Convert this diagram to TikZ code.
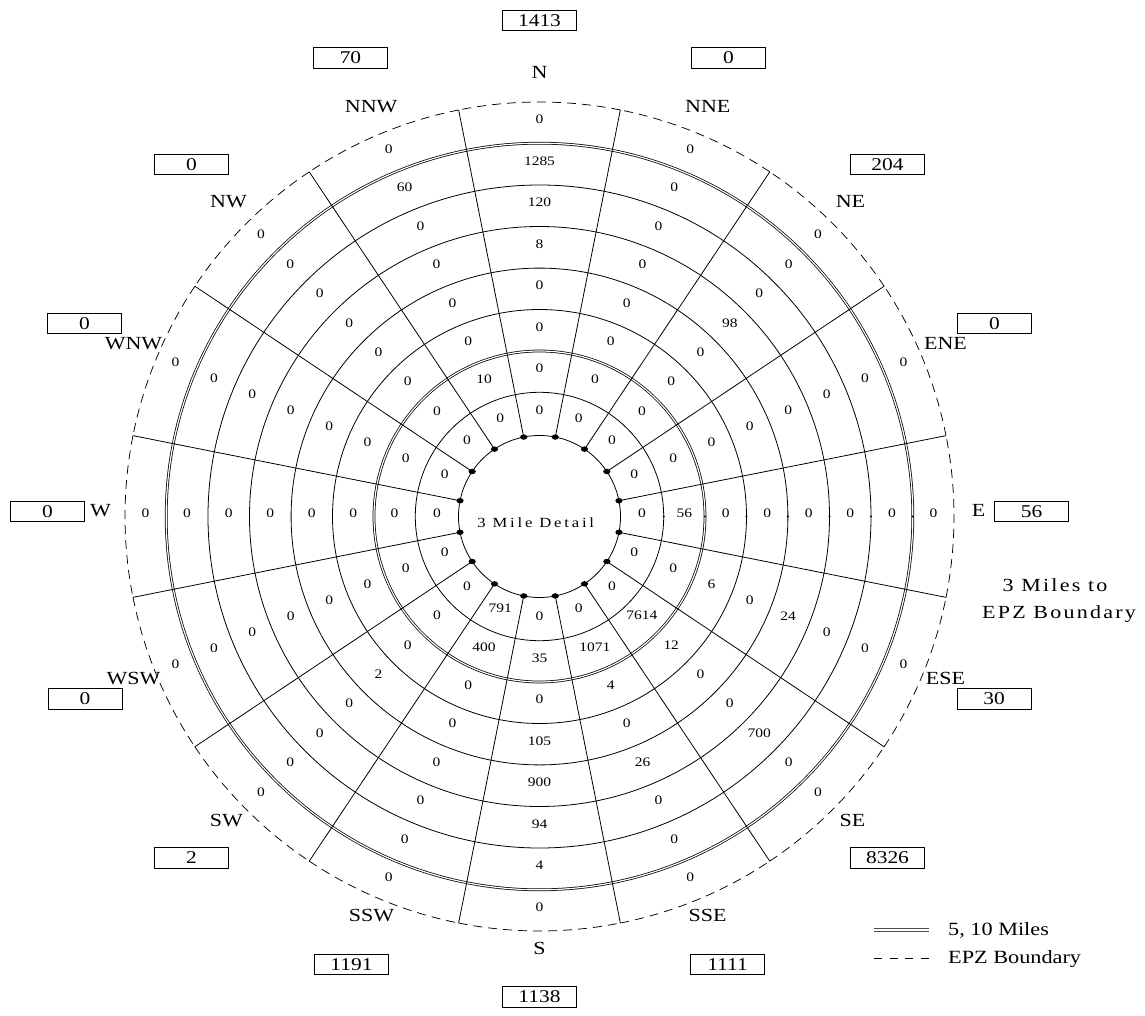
\documentclass[tikz,border=0pt]{standalone}
\usepackage{fontspec}
\setmainfont{Liberation Serif}[FakeStretch=1.19]
\tikzset{
  ringline/.style={line width=0.8pt},
  dblline/.style={line width=0.75pt, double, double distance=1.2pt},
  epzline/.style={line width=0.75pt, dash pattern=on 9pt off 6pt},
  spoke/.style={line width=0.8pt},
  rv/.style={inner sep=0pt, font=\fontsize{13}{14}\selectfont, yshift=3.3pt},
  dirlab/.style={inner sep=0pt, font=\fontsize{18.5}{20}\selectfont},
  valbox/.style={draw, line width=0.9pt, minimum width=74pt, minimum height=20.5pt, inner sep=0pt, font=\fontsize{18}{19}\selectfont},
  legtext/.style={inner sep=0pt, anchor=base west, font=\fontsize{18.7}{20}\selectfont},
  legdbl/.style={line width=0.8pt, draw=black!70},
}
\newcommand{\sectorvals}[9]{%
  \pgfmathsetmacro{\sa}{90-22.5*#1}%
  \node[rv] (v#1r1) at (\sa:102.6) {#2};
  \node[rv] (v#1r2) at (\sa:144.9) {#3};
  \node[rv] (v#1r3) at (\sa:186.3) {#4};
  \node[rv] (v#1r4) at (\sa:227.7) {#5};
  \node[rv] (v#1r5) at (\sa:269.2) {#6};
  \node[rv] (v#1r6) at (\sa:310.8) {#7};
  \node[rv] (v#1r7) at (\sa:352.4) {#8};
  \node[rv] (v#1r8) at (\sa:394.0) {#9};
}
\begin{document}
\begin{tikzpicture}[x=1pt,y=1pt]
\useasboundingbox[fill=white] (-539.5,516.5) rectangle (605.5,-498.5);

% rings
\foreach \r in {81,124.2,207,248.4,290,331.5}
  \draw[ringline] (0,0) circle[radius=\r pt];
\foreach \r in {165.5,373.3}
  \draw[dblline] (0,0) circle[radius=\r pt];

% EPZ boundary (dashed), one arc per sector
\foreach \i in {0,...,15}
  \draw[epzline] ({11.25+22.5*\i}:414.5) arc[start angle={11.25+22.5*\i}, end angle={33.75+22.5*\i}, radius=414.5pt];

% spokes and dots
\foreach \i in {0,...,15}{
  \draw[spoke] ({11.25+22.5*\i}:81) -- ({11.25+22.5*\i}:414.5);
  \fill ({11.25+22.5*\i}:81) ellipse[x radius=3.6pt, y radius=2.7pt];
}
% small marks on east axis
\foreach \r in {124.2,165.5,207,248.4,290,331.5,373.3}
  \fill (\r,0) circle[radius=1.1pt];

% centre text
\node[inner sep=0pt, font=\fontsize{14}{15}\selectfont\addfontfeatures{LetterSpace=20}] (detail) at (-3.8,-6.2) {3 Mile Detail};

% ring values: sector index (0=N, clockwise), values from inside out
\sectorvals{0}{0}{0}{0}{0}{8}{120}{1285}{0}
\sectorvals{1}{0}{0}{0}{0}{0}{0}{0}{0}
\sectorvals{2}{0}{0}{0}{0}{98}{0}{0}{0}
\sectorvals{3}{0}{0}{0}{0}{0}{0}{0}{0}
\sectorvals{4}{0}{56}{0}{0}{0}{0}{0}{0}
\sectorvals{5}{0}{0}{6}{0}{24}{0}{0}{0}
\sectorvals{6}{0}{7614}{12}{0}{0}{700}{0}{0}
\sectorvals{7}{0}{1071}{4}{0}{26}{0}{0}{0}
\sectorvals{8}{0}{35}{0}{105}{900}{94}{4}{0}
\sectorvals{9}{791}{400}{0}{0}{0}{0}{0}{0}
\sectorvals{10}{0}{0}{0}{2}{0}{0}{0}{0}
\sectorvals{11}{0}{0}{0}{0}{0}{0}{0}{0}
\sectorvals{12}{0}{0}{0}{0}{0}{0}{0}{0}
\sectorvals{13}{0}{0}{0}{0}{0}{0}{0}{0}
\sectorvals{14}{0}{0}{0}{0}{0}{0}{0}{0}
\sectorvals{15}{0}{10}{0}{0}{0}{0}{60}{0}

% direction labels
\node[dirlab] (lN)   at (0,443.8)      {N};
\node[dirlab] (lNNE) at (168.3,409.8)  {NNE};
\node[dirlab] (lNE)  at (311,315.2)    {NE};
\node[dirlab] (lENE) at (406,173.2)    {ENE};
\node[dirlab] (lE)   at (439,5.6)      {E};
\node[dirlab] (lESE) at (406,-162)     {ESE};
\node[dirlab] (lSE)  at (313,-304)     {SE};
\node[dirlab] (lSSE) at (168,-399)     {SSE};
\node[dirlab] (lS)   at (0,-431.5)     {S};
\node[dirlab] (lSSW) at (-168,-399)    {SSW};
\node[dirlab] (lSW)  at (-313,-304)    {SW};
\node[dirlab] (lWSW) at (-406,-162)    {WSW};
\node[dirlab] (lW)   at (-439,5.6)     {W};
\node[dirlab] (lWNW) at (-406,173.2)   {WNW};
\node[dirlab] (lNW)  at (-311,315.2)   {NW};
\node[dirlab] (lNNW) at (-168.3,409.8) {NNW};

% sector totals
\node[valbox] (bN)   at (0,496.2)      {1413};
\node[valbox] (bNNE) at (189,458.5)    {0};
\node[valbox] (bNE)  at (348,352)      {204};
\node[valbox] (bENE) at (455,193)      {0};
\node[valbox] (bE)   at (492,5.3)      {56};
\node[valbox] (bESE) at (454.5,-182.5) {30};
\node[valbox] (bSE)  at (348,-341.5)   {8326};
\node[valbox] (bSSE) at (188,-448)     {1111};
\node[valbox] (bS)   at (0,-480.5)     {1138};
\node[valbox] (bSSW) at (-188,-448)    {1191};
\node[valbox] (bSW)  at (-348,-341.5)  {2};
\node[valbox] (bWSW) at (-454.5,-182.5){0};
\node[valbox] (bW)   at (-492,5.3)     {0};
\node[valbox] (bWNW) at (-455,193)     {0};
\node[valbox] (bNW)  at (-348,352)     {0};
\node[valbox] (bNNW) at (-189,458.5)   {70};

% side note
\node[inner sep=0pt, font=\fontsize{18.5}{20}\selectfont\addfontfeatures{LetterSpace=12}] (note1) at (515.5,-68.5) {3 Miles to};
\node[inner sep=0pt, anchor=base, font=\fontsize{18.5}{20}\selectfont\addfontfeatures{LetterSpace=12}] (note2) at (519.5,-101.5) {EPZ Boundary};

% legend
\coordinate (dA1) at (334.5,-412.3);
\coordinate (dB1) at (389.5,-412.3);
\coordinate (dA2) at (334.5,-414.7);
\coordinate (dB2) at (389.5,-414.7);
\coordinate (eA) at (334.5,-441.8);
\coordinate (eB) at (389.5,-441.8);
\draw[legdbl] (dA1) -- (dB1);
\draw[legdbl] (dA2) -- (dB2);
\draw[line width=0.75pt, dash pattern=on 8pt off 7.5pt] (eA) -- (eB);
\node[legtext] (leg1) at (408.5,-418.8) {5, 10 Miles};
\node[legtext] (leg2) at (408.5,-446.8) {EPZ Boundary};
\end{tikzpicture}
\end{document}
